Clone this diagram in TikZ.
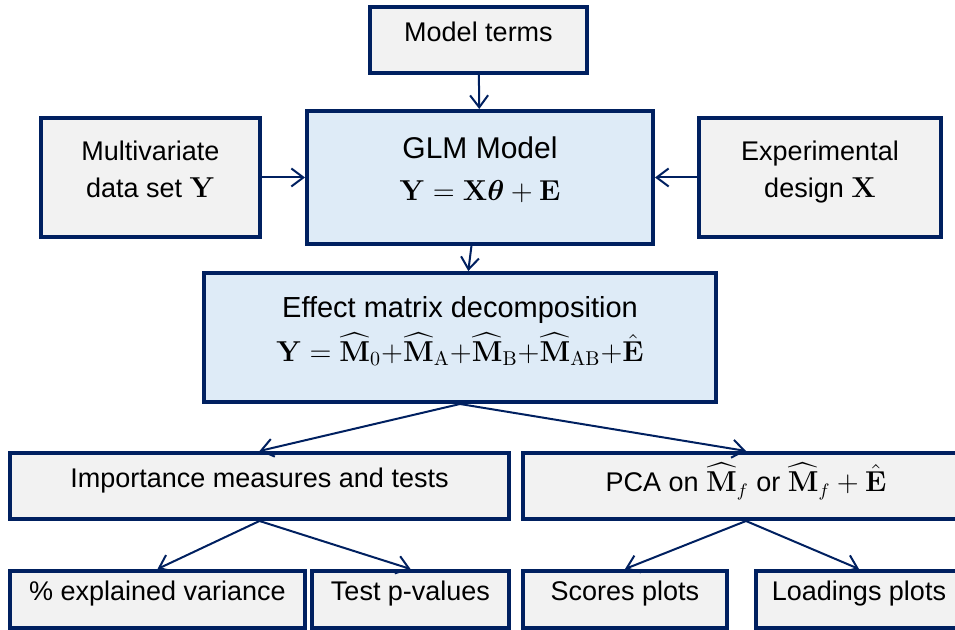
\documentclass[tikz,border=0pt]{standalone}
\usepackage{amsmath,bm}
\usepackage[no-math]{fontspec}
\setmainfont{Liberation Sans}
\usetikzlibrary{arrows.meta}

\definecolor{navy}{HTML}{002060}
\definecolor{boxgray}{HTML}{F2F2F2}
\definecolor{boxblue}{HTML}{DEEBF7}

\tikzset{
  box/.style={draw=navy, line width=2pt, fill=boxgray, align=center,
    inner sep=2pt, text depth=8.5pt, font=\fontsize{13.5}{18.5}\selectfont},
  mainbox/.style={box, fill=boxblue},
  link/.style={navy, line width=1pt, -{Straight Barb[length=6pt,width=9pt]}}
}

\begin{document}
\begin{tikzpicture}[x=0.5pt,y=-0.5pt]
\useasboundingbox (0,0) rectangle (955,630);

% inputs of the model
\node[box, minimum width=108.5pt, minimum height=33pt] (terms) at (478.5,40) {Model terms};
\node[box, minimum width=109.5pt, minimum height=59.5pt] (data) at (150.5,177.5)
  {Multivariate\\data set $\mathbf{Y}$};
\node[box, minimum width=121pt, minimum height=59.5pt] (design) at (820,177.5)
  {Experimental\\design $\mathbf{X}$};

% model and decomposition
\node[mainbox, minimum width=173pt, minimum height=66.5pt, font=\fontsize{15}{21}\selectfont]
  (glm) at (480,177.5)
  {GLM Model\\$\mathbf{Y}=\mathbf{X}\bm{\theta}+\mathbf{E}$};
\node[mainbox, minimum width=256pt, minimum height=64.5pt, font=\fontsize{14.5}{22}\selectfont]
  (effect) at (460,337.5)
  {Effect matrix decomposition\\
   $\mathbf{Y}=\widehat{\mathbf{M}}_0{+}\widehat{\mathbf{M}}_{\mathrm{A}}{+}\widehat{\mathbf{M}}_{\mathrm{B}}{+}\widehat{\mathbf{M}}_{\mathrm{AB}}{+}\hat{\mathbf{E}}$};

% analysis
\node[box, minimum width=249.5pt, minimum height=33pt] (imp) at (259.5,486)
  {Importance measures and tests};
\node[box, minimum width=223pt, minimum height=33pt] (pca) at (746,486)
  {PCA on $\widehat{\mathbf{M}}_f$ or $\widehat{\mathbf{M}}_f+\hat{\mathbf{E}}$};

% results
\node[box, minimum width=147.5pt, minimum height=28.5pt] (expl) at (157.5,599.5)
  {\% explained variance};
\node[box, minimum width=98.5pt, minimum height=28.5pt] (pval) at (410.5,599.5)
  {Test p-values};
\node[box, minimum width=102pt, minimum height=28.5pt] (scores) at (625,599.5)
  {Scores plots};
\node[box, minimum width=103pt, minimum height=28.5pt] (load) at (859,599.5)
  {Loadings plots};

\draw[link] (terms) -- (glm);
\draw[link] (data) -- (glm);
\draw[link] (design) -- (glm);
\draw[link] (glm) -- (effect);
\draw[link] (effect.south) -- (imp.north);
\draw[link] (effect.south) -- (pca.north);
\draw[link] (imp.south) -- (expl.north);
\draw[link] (imp.south) -- (pval.north);
\draw[link] (pca.south) -- (scores.north);
\draw[link] (pca.south) -- (load.north);
\end{tikzpicture}
\end{document}
